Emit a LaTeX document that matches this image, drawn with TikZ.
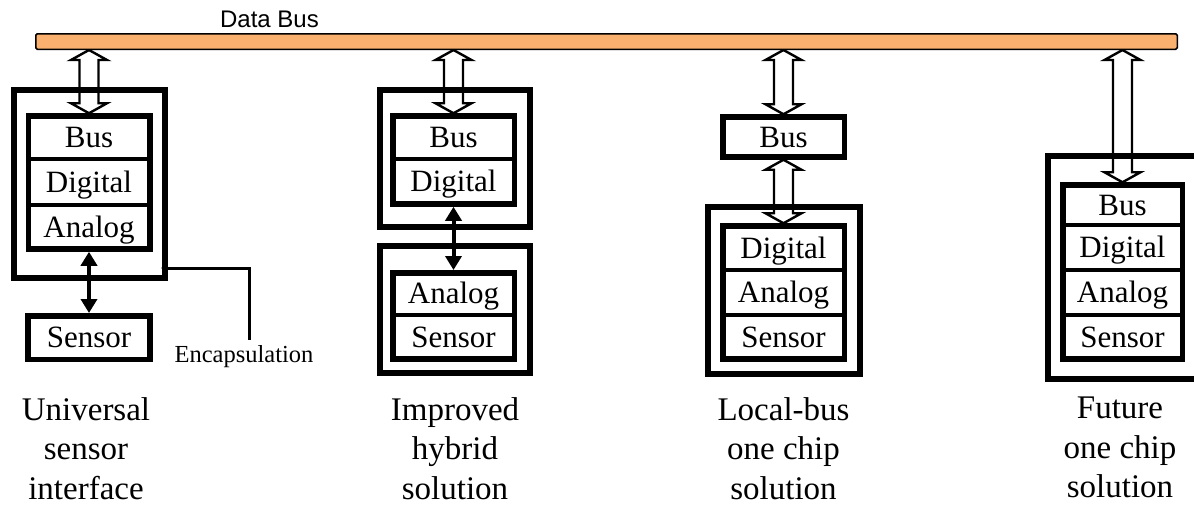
\documentclass[tikz,border=0pt]{standalone}
\usepackage{fontspec}
\setmainfont{Liberation Serif}
\newfontfamily\busfont{Liberation Sans}
\usetikzlibrary{arrows.meta,fit,calc,backgrounds}
\definecolor{busorange}{RGB}{250,176,110}

\tikzset{
  cell/.style={draw, line width=3.5pt, inner sep=0pt, outer sep=0pt,
    minimum width=121.5pt, text height=20pt, text depth=0pt,
    font=\fontsize{31}{31}\selectfont},
  solo/.style={cell, line width=5.5pt, outer sep=2.75pt},
  stack/.style={draw, line width=5.5pt, inner sep=0pt},
  encl/.style={draw, line width=5.5pt, inner sep=0pt},
  hollow/.style={draw, fill=white, line width=2.4pt, line join=miter},
  link/.style={line width=4pt,
    {Triangle[width=16pt,length=14pt]}-{Triangle[width=16pt,length=14pt]}},
  lead/.style={line width=3pt},
  caption/.style={align=center, anchor=north, inner sep=0pt,
    font=\fontsize{33}{39.5}\selectfont},
}

% wide hollow double-headed arrow between two points on a vertical line
\newcommand{\busarrow}[2]{%
  \path[hollow] let \p1=#1, \p2=#2 in
    (\x1,\y1) -- (\x1+18pt,\y1-10pt) -- (\x1+9.5pt,\y1-10pt)
    -- (\x1+9.5pt,\y2+10pt) -- (\x1+18pt,\y2+10pt) -- (\x1,\y2)
    -- (\x1-18pt,\y2+10pt) -- (\x1-9.5pt,\y2+10pt)
    -- (\x1-9.5pt,\y1-10pt) -- (\x1-18pt,\y1-10pt) -- cycle;}

\begin{document}
\begin{tikzpicture}[x=1pt,y=-1pt]
\clip (0,0) rectangle (1194,504);

% data bus
\node[draw, line width=1.5pt, fill=busorange, rounded corners=1.5pt,
  minimum width=1141.5pt, minimum height=15.5pt, inner sep=0pt]
  (databus) at (606.5,41.5) {};
\node[anchor=base, inner sep=0pt, font=\busfont\fontsize{24}{24}\selectfont]
  (buslabel) at (269.5,27) {Data Bus};

% universal sensor interface
\node[encl, minimum width=151pt, minimum height=188pt] (enc1) at (89.5,184) {};
\node[cell, minimum height=43pt] (bus1) at (89,137.5) {Bus};
\node[cell, minimum height=46pt] (dig1) at (89,182) {Digital};
\node[cell, minimum height=44pt] (ana1) at (89,227) {Analog};
\node[stack, fit=(bus1)(ana1)] (s1) {};
\node[solo, minimum width=122pt, minimum height=43.5pt] (sen1) at (89,337.5) {Sensor};
\draw[link] (s1.south) -- (sen1.north);
\coordinate (encdot) at (165,268);
\fill (encdot) circle (3.5pt);
\node[anchor=base, inner sep=3pt, font=\fontsize{24.5}{24.5}\selectfont]
  (enclabel) at (244,362) {Encapsulation};
\draw[lead] (encdot) -| ([xshift=5pt,yshift=2pt]enclabel.north);

% improved hybrid solution
\node[encl, minimum width=150pt, minimum height=137pt] (enc2a) at (455,158.5) {};
\node[encl, minimum width=150pt, minimum height=127pt] (enc2b) at (455,309.5) {};
\node[cell, minimum height=43pt] (bus2) at (453.5,137.5) {Bus};
\node[cell, minimum height=45pt] (dig2) at (453.5,181.5) {Digital};
\node[stack, fit=(bus2)(dig2)] (s2a) {};
\node[cell, minimum height=42.25pt] (ana2) at (453.5,293.9) {Analog};
\node[cell, minimum height=44.25pt] (sen2) at (453.5,337.1) {Sensor};
\node[stack, fit=(ana2)(sen2)] (s2b) {};
\draw[link] (s2a.south) -- (s2b.north);

% local-bus one chip solution
\node[solo, minimum height=40pt] (bus3) at (783.5,137) {Bus};
\node[encl, minimum width=152pt, minimum height=167pt] (enc3) at (784,290.5) {};
\node[cell, minimum height=44pt] (dig3) at (783.5,248) {Digital};
\node[cell, minimum height=45pt] (ana3) at (783.5,292.5) {Analog};
\node[cell, minimum height=44pt] (sen3) at (783.5,337) {Sensor};
\node[stack, fit=(dig3)(sen3)] (s3) {};

% future one chip solution
\node[encl, minimum width=156pt, minimum height=223pt] (enc4) at (1126,267.5) {};
\node[cell, minimum width=119.5pt, minimum height=40pt] (bus4) at (1122.5,205) {Bus};
\node[cell, minimum width=119.5pt, minimum height=45pt] (dig4) at (1122.5,247.5) {Digital};
\node[cell, minimum width=119.5pt, minimum height=45pt] (ana4) at (1122.5,292.5) {Analog};
\node[cell, minimum width=119.5pt, minimum height=44pt] (sen4) at (1122.5,337) {Sensor};
\node[stack, fit=(bus4)(sen4)] (s4) {};

% bus connections, kept behind the boxes
\begin{pgfonlayer}{background}
  \busarrow{(databus.south -| s1.north)}{(s1.north)}
  \busarrow{(databus.south -| s2a.north)}{(s2a.north)}
  \busarrow{(databus.south -| bus3.north)}{(bus3.north)}
  \busarrow{(bus3.south)}{(s3.north)}
  \busarrow{(databus.south -| s4.north)}{(s4.north)}
\end{pgfonlayer}

% captions
\node[caption] (cap1) at (86,397) {Universal\\sensor\\interface};
\node[caption] (cap2) at (455,397) {Improved\\hybrid\\solution};
\node[caption] (cap3) at (783.5,397) {Local-bus\\one chip\\solution};
\node[caption] (cap4) at (1120,397) {Future\\one chip\\solution};
\end{tikzpicture}
\end{document}
